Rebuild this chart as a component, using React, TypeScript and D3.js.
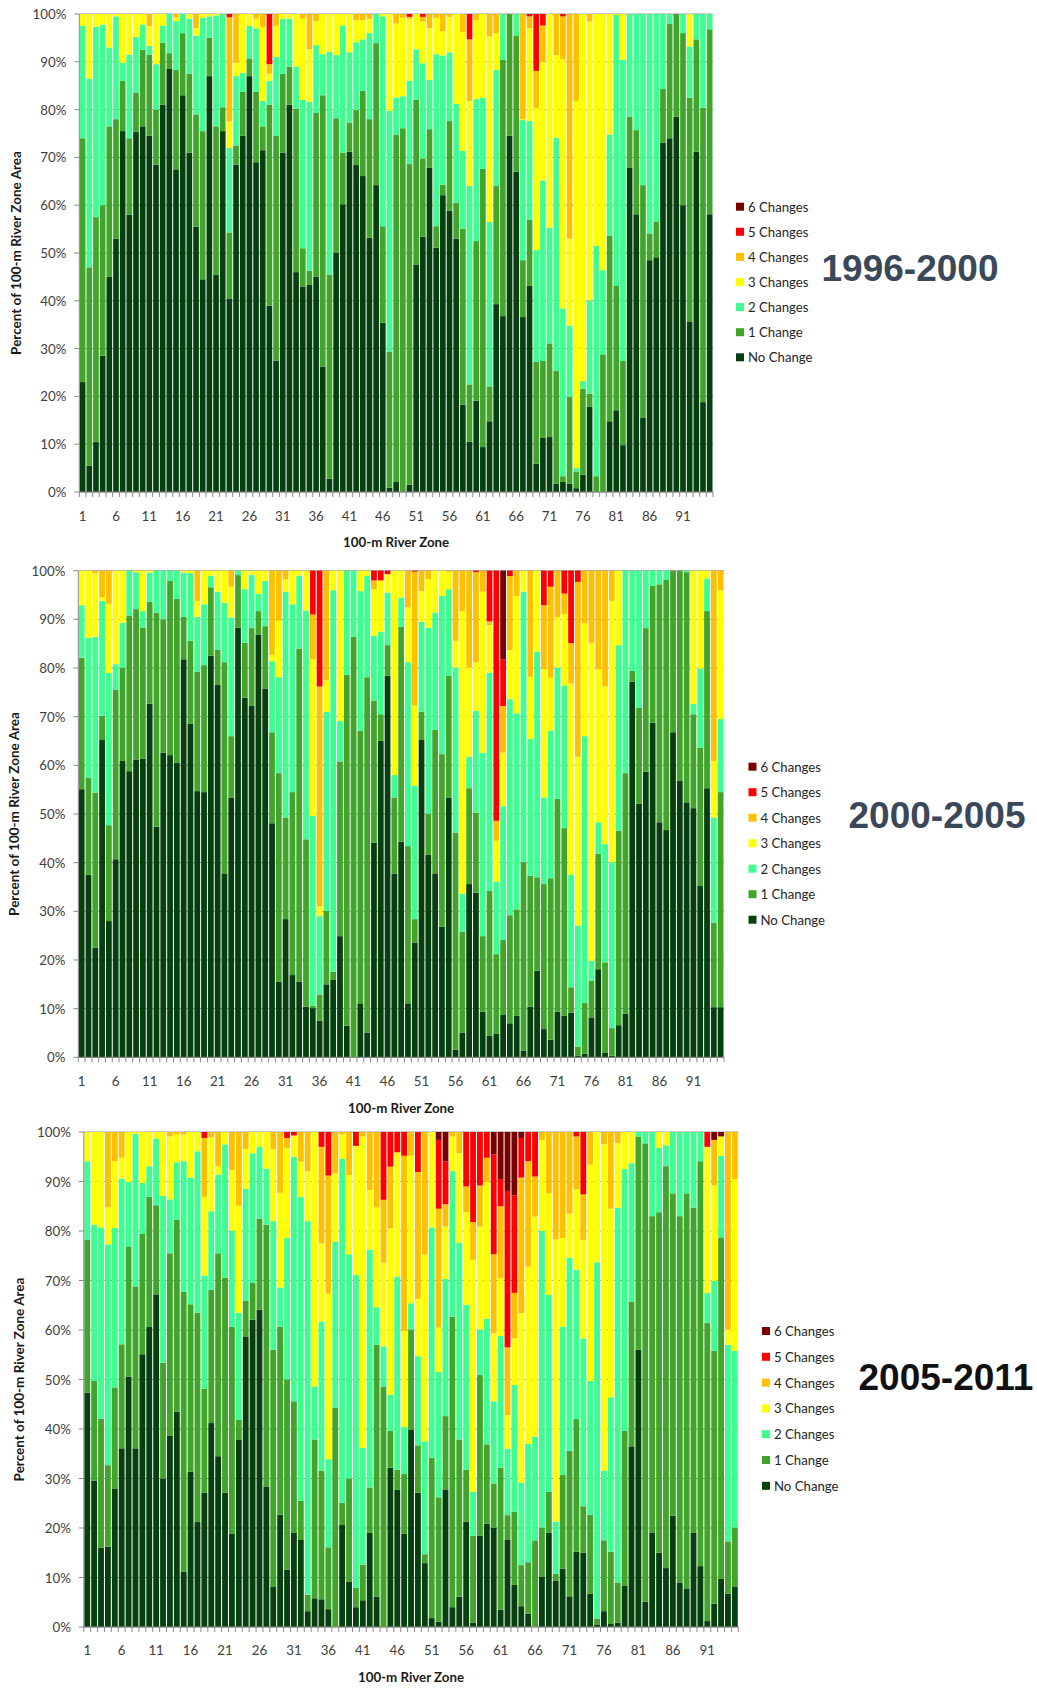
import React from 'react';
import * as d3 from 'd3';

const zones = d3.range(1, 96);
const zoneTicks = [1, 6, 11, 16, 21, 26, 31, 36, 41, 46, 51, 56, 61, 66, 71, 76, 81, 86, 91];
const pctTicks = [0, 10, 20, 30, 40, 50, 60, 70, 80, 90, 100];
const categories = ['No Change', '1 Change', '2 Changes', '3 Changes', '4 Changes', '5 Changes', '6 Changes'];
const colors = ['#06400e', '#42a52b', '#3ffd90', '#ffff00', '#ffc000', '#ff0000', '#7a0000'];

// cumulative % of zone area at the top of each class (no change, <=1, <=2, ...), read per zone
// 1996-2000
const a0 = [23, 5.5, 10.5, 28.5, 45, 53, 75.5, 58, 75.3, 76.5, 74.5, 68.5, 81, 88.5, 67.5, 83, 71, 55.5, 44.5, 87,
  45.5, 75.5, 40.5, 68.5, 74.5, 87, 69, 71.5, 39, 27.5, 71, 81, 46, 43, 43.3, 45, 26.2, 2.8, 50.1, 60.2,
  71.2, 68.4, 66.1, 53.2, 64.2, 35.4, 0.9, 2.1, 0, 1.5, 47.6, 53.4, 67.8, 51.1, 62.1, 58.8, 53, 18.3, 10.5, 19.1,
  9.4, 14.8, 39.3, 36.8, 74.5, 67, 36.6, 43.1, 5.9, 11.3, 11.5, 1.7, 2.1, 1.7, 0.8, 3.6, 17.8, 0.1, 0, 14.8,
  17.1, 9.8, 67.9, 58.1, 15.6, 48.5, 49.1, 73.1, 74, 78.5, 60, 35.7, 71.2, 18.8, 58.1];
const a1 = [74, 47, 57.5, 60, 76.5, 78, 86, 74, 83.5, 92.5, 91.5, 80, 94, 91.8, 88.3, 96, 87.5, 79, 75.5, 95,
  76.5, 80.5, 54.3, 72.5, 83.7, 90.7, 83.7, 76.5, 81, 74.5, 87.5, 89, 80.2, 51, 46.3, 79.3, 83, 45.5, 78.2, 71,
  77.3, 79.9, 83.9, 78, 93.9, 55.6, 29.3, 74.8, 76.1, 68.6, 82.1, 69.8, 75.9, 55.6, 64.3, 77.6, 60.5, 55.1, 22.5, 52.5,
  67.6, 22.1, 64, 90.4, 100, 95.4, 48.5, 56.9, 27.2, 27.4, 31.1, 25.3, 3.3, 19.9, 4.3, 21.6, 20.6, 3.3, 28.8, 53.6,
  43.1, 27.4, 78.5, 75.7, 64.2, 54.1, 56.5, 84.3, 97.9, 100, 96, 82.5, 94.7, 80.4, 96.8];
const a2 = [97.5, 86.5, 97.3, 97.8, 93, 99.5, 89.8, 91.5, 95.2, 97.8, 93.3, 89.5, 97.5, 100, 98.5, 100, 99, 95.5, 99.2, 99.5,
  99.7, 100, 72, 87, 87.7, 97.5, 97, 81.8, 86, 91, 99, 99, 89, 82, 81.6, 93.5, 91.6, 92.1, 91.4, 97.6,
  92, 94.1, 94.7, 96, 100, 99.5, 79.7, 82.5, 82.8, 86, 92.6, 89.7, 86.2, 91.6, 91.3, 92, 81.2, 71.4, 64, 82.2,
  82.5, 56.5, 88.3, 100, 100, 100, 77.8, 77.6, 50.6, 65.2, 55.3, 74.1, 38.4, 34.8, 5, 23.2, 40.1, 51.5, 46.4, 74.8,
  99.8, 90.4, 100, 100, 100, 100, 100, 100, 100, 100, 100, 93.2, 100, 100, 100];
const a3 = [100, 100, 100, 100, 100, 100, 100, 100, 100, 100, 97.5, 100, 100, 100, 99.3, 100, 100, 97, 100, 100,
  100, 100, 77.5, 89.8, 100, 100, 99, 97.3, 87.5, 97.5, 100, 100, 100, 99, 92.6, 98.5, 100, 100, 100, 100,
  100, 98.7, 98.7, 99, 100, 100, 100, 98, 99.2, 99, 100, 98.4, 97, 99.2, 96.4, 99.4, 100, 96.2, 81.8, 98.7,
  100, 95.3, 96, 100, 100, 100, 78, 97, 80.3, 90, 100, 91.4, 90.5, 53, 81.8, 100, 98.4, 100, 100, 100,
  100, 100, 100, 100, 100, 100, 100, 100, 100, 100, 100, 100, 100, 100, 100];
const a4 = [100, 100, 100, 100, 100, 100, 100, 100, 100, 100, 100, 100, 100, 100, 100, 100, 100, 100, 100, 100,
  100, 100, 99.3, 100, 100, 100, 100, 100, 89.5, 100, 100, 100, 100, 100, 100, 100, 100, 100, 100, 100,
  100, 100, 100, 100, 100, 100, 100, 100, 100, 99.4, 100, 99.4, 100, 100, 100, 100, 100, 100, 94.7, 100,
  100, 100, 100, 100, 100, 100, 100, 99.5, 88.1, 97.6, 100, 100, 99.5, 100, 100, 100, 100, 100, 100, 100,
  100, 100, 100, 100, 100, 100, 100, 100, 100, 100, 100, 100, 100, 100, 100];

// 2000-2005
const b0 = [55.1, 37.5, 22.5, 65.2, 28, 40.7, 60.9, 58.8, 61.2, 61.4, 72.7, 47.4, 62.6, 62.1, 60.6, 81.8, 68.6, 54.7, 54.5, 82.5,
  76.5, 37.8, 53.4, 88.3, 73.9, 72.2, 86.9, 75.8, 48.1, 15.5, 28.4, 16.9, 15.5, 10.4, 10.1, 7.5, 15, 15.9, 24.9, 6.5,
  0, 11.1, 5.1, 44.1, 65, 78.4, 37.7, 44.3, 11.1, 23.6, 65.2, 41.6, 37.8, 26.8, 53.4, 1.6, 5.1, 35.6, 33.8, 9.4,
  4.4, 4.9, 8.7, 7, 8.5, 1.4, 10.4, 17.8, 5.8, 3.6, 9.4, 8.5, 9.2, 0.3, 0.7, 8.2, 18.1, 1, 0.3, 6.6,
  9, 77.2, 52.1, 58.7, 68.8, 48.3, 46.7, 66.8, 56.8, 52.4, 51.2, 35.2, 55.3, 10.3, 10.3];
const b1 = [82.1, 57.5, 54.4, 70.2, 47.7, 75.5, 80.1, 90.7, 92.1, 88.3, 93.6, 91.4, 90, 97.9, 94.2, 90.5, 85.6, 79.2, 80.6, 96.6,
  83.7, 81.2, 66, 99.1, 85.2, 88.2, 91.7, 88.6, 66.8, 58.4, 49.3, 54.5, 84, 44.8, 10.6, 12.9, 30.1, 17.6, 60.8, 78.6,
  86.4, 67.1, 78.1, 73.3, 70.5, 84.7, 53.4, 88.5, 43.4, 28.4, 71, 50.1, 67.3, 62.3, 78.4, 46.2, 25.8, 55.3, 50.3, 24.9,
  34.2, 21.2, 24.1, 29.2, 30.4, 40.1, 37.3, 37, 35.6, 36.8, 53.1, 47.1, 14.4, 2.2, 11.2, 15.7, 41.8, 19.5, 6, 46.6,
  58.4, 79.4, 71.8, 88.2, 96.9, 97.2, 98.1, 100, 100, 99.7, 70.5, 63.6, 91.7, 27.7, 54.5];
const b2 = [92.9, 86.2, 86.4, 93.8, 79, 80.8, 89.3, 100, 99.7, 91.7, 99.6, 100, 100, 100, 100, 99.6, 99.5, 90.5, 93.1, 99,
  95.7, 93.4, 90.4, 100, 96.2, 99.1, 95.2, 97.9, 81.4, 78.1, 95.7, 93.1, 99, 91.8, 49.6, 29, 71, 96, 69.1, 100,
  100, 95.8, 98.9, 86.6, 87.5, 95.5, 58, 94.5, 81.2, 55.8, 89.5, 88.3, 91.4, 94.8, 96.2, 80.1, 33.6, 61.8, 71.2, 62.6,
  79, 36.1, 51.6, 73.6, 70.7, 95.7, 65.4, 83.4, 53.4, 67.1, 80.1, 76.4, 37.5, 27.1, 66, 19.8, 48.3, 43.8, 40.1, 84.7,
  100, 100, 100, 100, 100, 100, 100, 100, 100, 100, 72.6, 79.9, 98.4, 49.3, 69.5];
const b3 = [100, 100, 99.5, 94.5, 93.2, 100, 100, 100, 100, 100, 100, 100, 100, 100, 100, 100, 100, 93.8, 100, 100,
  100, 100, 96.7, 100, 100, 100, 100, 100, 82.7, 89.7, 98.2, 100, 100, 100, 81.8, 31, 77.5, 100, 100, 100,
  100, 100, 100, 96.2, 98, 99.3, 100, 100, 92.5, 72.3, 95.8, 98.3, 100, 100, 99.7, 85.6, 91.7, 80.1, 81.2, 95.7,
  88.8, 44.5, 62.6, 83.7, 94.8, 100, 78.2, 100, 79.8, 78, 90.5, 91.1, 76.8, 61.8, 89.2, 85.1, 79.7, 76.2, 93.8, 100,
  100, 100, 100, 100, 100, 100, 100, 100, 100, 100, 100, 100, 100, 60.9, 96];
const b4 = [100, 100, 100, 100, 100, 100, 100, 100, 100, 100, 100, 100, 100, 100, 100, 100, 100, 100, 100, 100,
  100, 100, 100, 100, 100, 100, 100, 100, 100, 100, 100, 100, 100, 100, 91, 76.2, 100, 100, 100, 100,
  100, 100, 100, 98, 98, 99.3, 100, 100, 100, 99.8, 100, 100, 100, 100, 100, 100, 100, 100, 99.7, 100,
  89.6, 48.6, 72.2, 98.9, 100, 100, 100, 100, 92.9, 96.7, 100, 95.3, 85.1, 97.7, 100, 100, 100, 100, 100, 100,
  100, 100, 100, 100, 100, 100, 100, 100, 100, 100, 100, 100, 100, 100, 100];
const b5 = [100, 100, 100, 100, 100, 100, 100, 100, 100, 100, 100, 100, 100, 100, 100, 100, 100, 100, 100, 100,
  100, 100, 100, 100, 100, 100, 100, 100, 100, 100, 100, 100, 100, 100, 100, 100, 100, 100, 100, 100,
  100, 100, 100, 100, 100, 100, 100, 100, 100, 100, 100, 100, 100, 100, 100, 100, 100, 100, 100, 100,
  100, 100, 81.8, 100, 100, 100, 100, 100, 100, 100, 100, 100, 100, 100, 100, 100, 100, 100, 100, 100,
  100, 100, 100, 100, 100, 100, 100, 100, 100, 100, 100, 100, 100, 100, 100];

// 2005-2011
const c0 = [47.3, 29.6, 16, 16.2, 28, 36.1, 50.6, 36.1, 55.1, 60.6, 67.2, 30, 38.6, 43.5, 11.2, 31.4, 21.2, 27.1, 41.2, 34.5,
  27.1, 18.8, 37.9, 58.7, 62.1, 64.1, 28.4, 8.2, 22.7, 11.6, 19, 17.7, 3.2, 5.8, 5.6, 3.6, 0, 20.6, 9.2, 4,
  5.4, 19, 6.1, 0, 32.2, 27.7, 18.8, 39.9, 27.1, 12.9, 1.8, 1.1, 27.8, 4, 6.1, 21.3, 0.9, 18.4, 20.9, 20.1,
  3.5, 17.7, 8.5, 4.2, 2.7, 0, 10.1, 19, 9.4, 11.8, 6.2, 15.2, 15, 6.7, 0.4, 3.2, 0.6, 0.9, 8.4, 36.5,
  56, 5.1, 19.1, 15, 11.9, 22.5, 9, 7.8, 19, 12.3, 1.2, 4.7, 9.7, 6.7, 8.2];
const c1 = [78.2, 49.7, 42.1, 32.7, 48.4, 57.1, 76.9, 68.8, 79.4, 86.9, 85.2, 53.4, 75.5, 82.3, 67.7, 65.2, 63.5, 48.1, 68.1, 75.5,
  70.6, 60.6, 41.9, 65.9, 69.5, 82.5, 81.3, 56, 60.7, 50, 45.6, 25.5, 6.5, 37.9, 31.6, 16.1, 44.3, 25.1, 30, 7.9,
  12.6, 28.2, 57, 48.6, 39.6, 31.8, 30.9, 60.1, 36.7, 14.7, 34.2, 26.2, 42.6, 62.7, 37.9, 31.8, 18.4, 50.9, 36.9, 29,
  32.2, 22.6, 23.3, 12.5, 13.1, 17.5, 20.1, 27.3, 10.8, 30.7, 35.6, 42, 24.4, 22.7, 1.7, 17.5, 15.2, 9, 39.6, 65.7,
  99.1, 97.7, 83, 83.8, 93.1, 87.6, 83, 87.6, 84.7, 94.1, 61.4, 55.8, 78.7, 17.3, 20.1];
const c2 = [94.1, 81.3, 80.7, 77.3, 80.6, 90.6, 89.9, 99.6, 89.7, 93.1, 98.6, 87.1, 86.4, 93.9, 94.1, 90.8, 96.1, 71, 84, 91.4,
  97.5, 80.1, 63.5, 88.5, 95.7, 97, 92.6, 82, 68.6, 78.6, 95, 86.9, 82, 48.6, 61.7, 33.9, 77.8, 94.6, 75.3, 71.1,
  36.2, 76.2, 64.6, 56.7, 46.9, 70.8, 40.4, 65.4, 54.7, 37.5, 80.7, 51.5, 70.3, 92.1, 77.6, 65.1, 27.3, 60.1, 62.3, 45.6,
  58.8, 36, 48.9, 29.1, 37, 38.5, 80, 67.1, 21.3, 60.7, 74.6, 72.2, 58.3, 49.7, 73.7, 31.6, 46.4, 84.7, 92.5, 93.7,
  100, 100, 100, 96.8, 97.3, 100, 100, 100, 100, 100, 67.5, 69.9, 95.2, 57, 55.8];
const c3 = [100, 100, 100, 84.8, 94.1, 94.8, 100, 100, 100, 100, 100, 100, 99.1, 99.6, 99.5, 100, 100, 86.9, 98.9, 93.1,
  100, 92.3, 85.1, 96.6, 100, 100, 100, 96.5, 87.7, 96.8, 99.3, 94, 92.1, 100, 77.5, 67.4, 91.6, 99.5, 91.3, 97.2,
  99.1, 88.3, 84.8, 73.6, 80.5, 95.9, 59.8, 95.2, 66.3, 75.2, 100, 60.5, 80.9, 99.1, 95.7, 83.8, 74.2, 80.9, 90, 59.3,
  70.5, 42.8, 58.3, 63.4, 72.8, 82.9, 98.4, 87.6, 78.3, 78.6, 83.5, 88.4, 78.2, 93.4, 100, 97.5, 84.5, 97.8, 100, 100,
  100, 100, 100, 100, 100, 100, 100, 100, 100, 100, 97, 89.2, 99.1, 60.1, 90.5];
const c4 = [100, 100, 100, 100, 100, 100, 100, 100, 100, 100, 100, 100, 100, 100, 100, 100, 100, 98.8, 100, 100,
  100, 100, 100, 100, 100, 100, 100, 100, 100, 98.8, 99.3, 100, 100, 100, 97, 91.2, 100, 100, 100, 97.2,
  100, 100, 100, 86.3, 93, 95.9, 95.2, 100, 91.9, 100, 100, 84.5, 85.4, 100, 100, 89, 81.8, 89.2, 94.8, 75.3,
  85, 56.5, 67.5, 90.8, 94.1, 91, 100, 100, 100, 100, 100, 99.1, 87.4, 100, 100, 100, 100, 100, 100, 100,
  100, 100, 100, 100, 100, 100, 100, 100, 100, 100, 97, 98.4, 99.1, 100, 100];
const c5 = [100, 100, 100, 100, 100, 100, 100, 100, 100, 100, 100, 100, 100, 100, 100, 100, 100, 100, 100, 100,
  100, 100, 100, 100, 100, 100, 100, 100, 100, 100, 100, 100, 100, 100, 100, 100, 100, 100, 100, 100,
  100, 100, 100, 100, 100, 100, 100, 100, 100, 100, 100, 98.4, 94.1, 100, 100, 100, 100, 100, 100, 95.5,
  90.5, 88.1, 87.2, 98.8, 100, 100, 100, 100, 100, 100, 100, 100, 100, 100, 100, 100, 100, 100, 100, 100,
  100, 100, 100, 100, 100, 100, 100, 100, 100, 100, 100, 98.4, 99.1, 100, 100];

const panels = [
  {
    title: '1996-2000', titleColor: '#3b4859', levels: [a0, a1, a2, a3, a4],
    left: 79.3, right: 713, top: 14, bottom: 492,
    tickY: 516, xTitleY: 542, yTitleX: 16,
    legendX: 736, legendY: 206.7, legendStep: 25.1, titleX: 910, titleY: 268,
  },
  {
    title: '2000-2005', titleColor: '#3b4859', levels: [b0, b1, b2, b3, b4, b5],
    left: 78.3, right: 724, top: 570.7, bottom: 1057.3,
    tickY: 1081, xTitleY: 1108, yTitleX: 14,
    legendX: 748.5, legendY: 766.7, legendStep: 25.5, titleX: 937, titleY: 815,
  },
  {
    title: '2005-2011', titleColor: '#111111', levels: [c0, c1, c2, c3, c4, c5],
    left: 83.8, right: 738.3, top: 1132, bottom: 1627,
    tickY: 1650, xTitleY: 1677, yTitleX: 19,
    legendX: 762, legendY: 1331, legendStep: 25.8, titleX: 946, titleY: 1377,
  },
];

const font = 'Lato, "Open Sans", sans-serif';

function Panel({ p }: { p: any }) {
  const x = d3.scaleBand<number>().domain(zones).range([p.left, p.right]).paddingInner(0.15).paddingOuter(0.075);
  const y = d3.scaleLinear().domain([0, 100]).range([p.bottom, p.top]);
  const step = x.step();

  const cum = (k: number, i: number) => {
    let v = 0;
    for (let j = 0; j <= k; j++) {
      const arr = p.levels[j];
      v = Math.max(v, arr ? arr[i] : 100);
    }
    return Math.min(v, 100);
  };

  const rects: any[] = [];
  zones.forEach((z, i) => {
    for (let k = 0; k < categories.length; k++) {
      const lo = k === 0 ? 0 : cum(k - 1, i);
      const hi = k === categories.length - 1 ? 100 : cum(k, i);
      if (hi - lo <= 0) continue;
      rects.push(
        <rect key={`${z}-${k}`} x={x(z)} width={x.bandwidth()} y={y(hi)} height={y(lo) - y(hi)} fill={colors[k]} />
      );
    }
  });

  const midX = (p.left + p.right) / 2;
  const midY = (p.top + p.bottom) / 2;

  return (
    <g>
      {pctTicks.map(t => (
        <line key={'g' + t} x1={p.left} x2={p.right} y1={y(t)} y2={y(t)} stroke="#9a9a9a" strokeWidth={1} />
      ))}
      {rects}
      <line x1={p.left} x2={p.left} y1={p.top} y2={p.bottom} stroke="#8a8a8a" />
      <line x1={p.left} x2={p.right} y1={p.bottom} y2={p.bottom} stroke="#8a8a8a" />
      {pctTicks.map(t => (
        <g key={'yt' + t}>
          <line x1={p.left - 5} x2={p.left} y1={y(t)} y2={y(t)} stroke="#8a8a8a" />
          <text x={p.left - 13} y={y(t)} textAnchor="end" dominantBaseline="central" fontSize={13.3} fill="#404040" fontFamily={font}>
            {t}%
          </text>
        </g>
      ))}
      {zones.map((z, i) => (
        <line key={'xt' + z} x1={p.left + i * step} x2={p.left + i * step} y1={p.bottom} y2={p.bottom + 5} stroke="#8a8a8a" />
      ))}
      <line x1={p.right} x2={p.right} y1={p.bottom} y2={p.bottom + 5} stroke="#8a8a8a" />
      {zoneTicks.map(z => (
        <text key={'xl' + z} x={(x(z) as number) + x.bandwidth() / 2} y={p.tickY} textAnchor="middle" dominantBaseline="central"
          fontSize={13.3} fill="#404040" fontFamily={font}>
          {z}
        </text>
      ))}
      <text x={midX} y={p.xTitleY} textAnchor="middle" dominantBaseline="central" fontSize={13.3} fontWeight="bold" fill="#1a1a1a" fontFamily={font}>
        100-m River Zone
      </text>
      <text transform={`translate(${p.yTitleX},${midY}) rotate(-90)`} textAnchor="middle" dominantBaseline="central"
        fontSize={13.5} fontWeight="bold" fill="#1a1a1a" fontFamily={font}>
        Percent of 100-m River Zone Area
      </text>
      {categories.slice().reverse().map((c, j) => {
        const k = categories.length - 1 - j;
        const cy = p.legendY + j * p.legendStep;
        return (
          <g key={'lg' + c}>
            <rect x={p.legendX} y={cy - 4} width={8} height={8} fill={colors[k]} />
            <text x={p.legendX + 12} y={cy} dominantBaseline="central" fontSize={13.2} fill="#262626" fontFamily={font}>
              {c}
            </text>
          </g>
        );
      })}
      <text x={p.titleX} y={p.titleY} textAnchor="middle" dominantBaseline="central" fontSize={37} fontWeight="bold"
        fill={p.titleColor} fontFamily='"Liberation Sans", Arial, sans-serif'>
        {p.title}
      </text>
    </g>
  );
}

export default function App() {
  return (
    <div style={{ position: 'absolute', left: 0, top: 0, background: '#fff' }}>
      <svg width={1037} height={1689} style={{ display: 'block' }}>
        <rect width={1037} height={1689} fill="#fff" />
        {panels.map(p => (
          <Panel key={p.title} p={p} />
        ))}
      </svg>
    </div>
  );
}
